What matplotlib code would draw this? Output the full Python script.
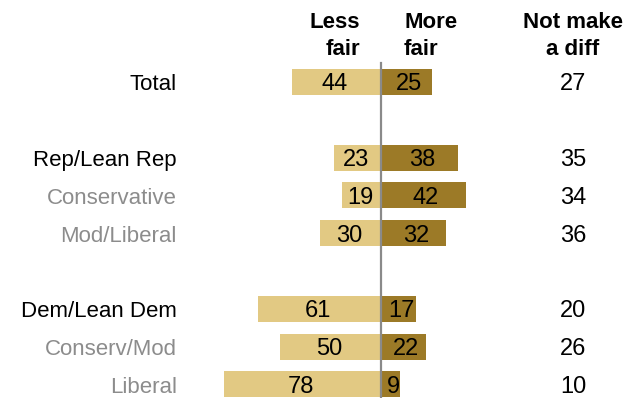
import matplotlib.pyplot as plt

plt.rcParams['font.family'] = ['Liberation Sans', 'DejaVu Sans']

groups = ['Total', 'Rep/Lean Rep', 'Conservative', 'Mod/Liberal',
          'Dem/Lean Dem', 'Conserv/Mod', 'Liberal']
less_fair = [44, 23, 19, 30, 61, 50, 78]
more_fair = [25, 38, 42, 32, 17, 22, 9]
no_diff = [27, 35, 34, 36, 20, 26, 10]
is_sub = [False, False, True, True, False, True, True]
rows = [0, 2, 3, 4, 6, 7, 8]

color_less = '#E2C983'
color_more = '#9C7A27'
color_sub = '#8C8C8C'
fs = 16
fs_num = 17

fig = plt.figure(figsize=(6.35, 3.98), dpi=100)
ax = fig.add_axes([0, 0, 1, 1])

# 2 px per percentage point, zero at pixel 381; ~37.8 px per row, row 0 at pixel 82
rowpx = 37.8
ax.set_xlim(-381 / 2, (635 - 381) / 2)
ax.set_ylim((398 - 82) / rowpx, -82 / rowpx)

ax.barh(rows, [-v for v in less_fair], height=0.69, color=color_less, left=-0.5)
ax.barh(rows, more_fair, height=0.69, color=color_more, left=0.5)

for r, g, lf, mf, nd, sub in zip(rows, groups, less_fair, more_fair, no_diff, is_sub):
    yb = r + 0.22
    ax.text(-102, yb, g, ha='right', va='baseline', fontsize=fs,
            color=color_sub if sub else 'black')
    ax.text(-lf / 2 - 1, yb, str(lf), ha='center', va='baseline', fontsize=fs_num)
    ax.text(mf / 2 + 1.5, yb, str(mf), ha='center', va='baseline', fontsize=fs_num)
    ax.text(96, yb, str(nd), ha='center', va='baseline', fontsize=fs_num)

ax.plot([0, 0], [-0.5, 8.6], color='#8a8a8a', lw=1.6, zorder=3)

# column headers
y1 = (28 - 82) / rowpx
y2 = (55 - 82) / rowpx
hdr = dict(fontsize=fs, fontweight='bold', va='baseline')
ax.text(-10.5, y1, 'Less', ha='right', **hdr)
ax.text(-10.5, y2, 'fair', ha='right', **hdr)
ax.text(11.5, y1, 'More', ha='left', **hdr)
ax.text(11.5, y2, 'fair', ha='left', **hdr)
ax.text(96, y1, 'Not make', ha='center', **hdr)
ax.text(96, y2, 'a diff', ha='center', **hdr)

ax.set_axis_off()

fig.savefig('out.png', dpi=100)
